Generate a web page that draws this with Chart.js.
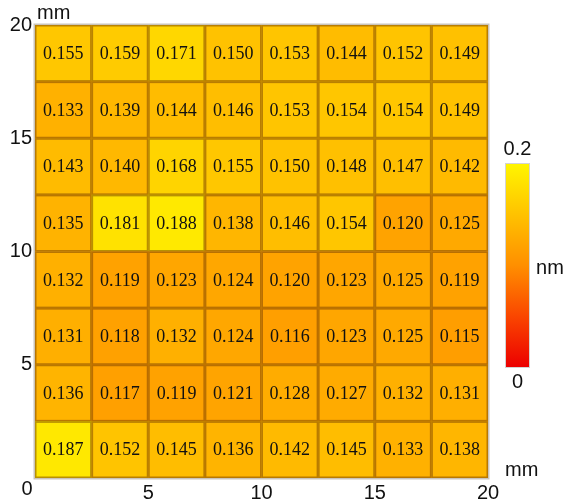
<!DOCTYPE html>
<html>
<head>
<meta charset="utf-8">
<script src="https://cdn.jsdelivr.net/npm/chart.js@4/dist/chart.umd.min.js"></script>
<style>
  html, body { margin: 0; padding: 0; background: #fff; }
  #wrap { width: 565px; height: 503px; }
</style>
</head>
<body>
<div id="wrap"><canvas id="map" width="565" height="503"></canvas></div>
<script>
// Thickness map, 8 x 8 cells over a 20 mm x 20 mm area (values in nm).
// Rows listed from the top row (y = 17.5-20 mm) down to the bottom row.
const row8 = [0.155, 0.159, 0.171, 0.150, 0.153, 0.144, 0.152, 0.149];
const row7 = [0.133, 0.139, 0.144, 0.146, 0.153, 0.154, 0.154, 0.149];
const row6 = [0.143, 0.140, 0.168, 0.155, 0.150, 0.148, 0.147, 0.142];
const row5 = [0.135, 0.181, 0.188, 0.138, 0.146, 0.154, 0.120, 0.125];
const row4 = [0.132, 0.119, 0.123, 0.124, 0.120, 0.123, 0.125, 0.119];
const row3 = [0.131, 0.118, 0.132, 0.124, 0.116, 0.123, 0.125, 0.115];
const row2 = [0.136, 0.117, 0.119, 0.121, 0.128, 0.127, 0.132, 0.131];
const row1 = [0.187, 0.152, 0.145, 0.136, 0.142, 0.145, 0.133, 0.138];
const rowsTopDown = [row8, row7, row6, row5, row4, row3, row2, row1];

const cellSize = 2.5;          // mm per cell
const axisTicks = [0, 5, 10, 15, 20];
const colorMin = 0, colorMax = 0.2;

// red -> orange -> yellow colour scale
const colorStops = [
  [0.00, 236, 0, 0],
  [0.05, 250, 70, 0],
  [0.10, 255, 143, 0],
  [0.20, 255, 245, 0]
];

function colorFor(v) {
  const t = Math.max(colorMin, Math.min(colorMax, v));
  for (let i = 1; i < colorStops.length; i++) {
    const a = colorStops[i - 1], b = colorStops[i];
    if (t <= b[0]) {
      const f = (t - a[0]) / (b[0] - a[0]);
      const r = Math.round(a[1] + (b[1] - a[1]) * f);
      const g = Math.round(a[2] + (b[2] - a[2]) * f);
      const bl = Math.round(a[3] + (b[3] - a[3]) * f);
      return `rgb(${r},${g},${bl})`;
    }
  }
  const l = colorStops[colorStops.length - 1];
  return `rgb(${l[1]},${l[2]},${l[3]})`;
}

// one floating bar per cell
const cells = [];
const nRows = rowsTopDown.length;
rowsTopDown.forEach((row, ri) => {
  const r = nRows - 1 - ri;
  row.forEach((v, c) => {
    cells.push({ x: c * cellSize + cellSize / 2, y: [r * cellSize, (r + 1) * cellSize], v: v });
  });
});

const tickFont = { family: 'Liberation Sans, Arial, sans-serif', size: 20 };

const decorations = {
  id: 'decorations',
  afterDatasetsDraw(chart) {
    const ctx = chart.ctx;
    const meta = chart.getDatasetMeta(0);
    const area = chart.chartArea;

    // translucent brown outline on every cell, so neighbouring cells share a darker seam
    ctx.save();
    ctx.strokeStyle = 'rgba(115,60,0,0.5)';
    ctx.lineWidth = 1.5;
    meta.data.forEach(el => {
      const left = el.x - el.width / 2, top = Math.min(el.y, el.base);
      const h = Math.abs(el.base - el.y);
      ctx.strokeRect(left + 0.75, top + 0.75, el.width - 1.5, h - 1.5);
    });
    ctx.restore();

    // value labels
    ctx.save();
    ctx.fillStyle = '#111';
    ctx.font = '18px "Liberation Serif", "Times New Roman", serif';
    ctx.textAlign = 'center';
    ctx.textBaseline = 'middle';
    meta.data.forEach((el, i) => {
      const cy = (el.y + el.base) / 2;
      ctx.fillText(cells[i].v.toFixed(3), el.x, cy + 1);
    });
    ctx.restore();

    // light frame around the map
    ctx.save();
    ctx.strokeStyle = 'rgba(195,190,180,0.9)';
    ctx.lineWidth = 1.5;
    ctx.strokeRect(area.left - 0.75, area.top - 0.75, area.right - area.left + 1.5, area.bottom - area.top + 1.5);
    ctx.restore();

    // shared origin label and axis units
    ctx.save();
    ctx.fillStyle = '#111';
    ctx.font = '20px "Liberation Sans", Arial, sans-serif';
    ctx.textAlign = 'center';
    ctx.textBaseline = 'middle';
    ctx.fillText('0', area.left - 8, area.bottom + 11);
    ctx.textAlign = 'left';
    ctx.textBaseline = 'alphabetic';
    ctx.fillText('mm', area.left + 2, area.top - 6);
    ctx.fillText('mm', area.right + 17, area.bottom - 2);
    ctx.restore();

    // colour bar
    const cbLeft = 506, cbRight = 529, cbTop = 164, cbBottom = 367;
    ctx.save();
    const grad = ctx.createLinearGradient(0, cbBottom, 0, cbTop);
    colorStops.forEach(s => grad.addColorStop((s[0] - colorMin) / (colorMax - colorMin), `rgb(${s[1]},${s[2]},${s[3]})`));
    ctx.fillStyle = grad;
    ctx.fillRect(cbLeft, cbTop, cbRight - cbLeft, cbBottom - cbTop);
    ctx.strokeStyle = 'rgba(200,200,200,0.8)';
    ctx.lineWidth = 1;
    ctx.strokeRect(cbLeft - 0.5, cbTop - 0.5, cbRight - cbLeft + 1, cbBottom - cbTop + 1);
    ctx.fillStyle = '#111';
    ctx.font = '20px "Liberation Sans", Arial, sans-serif';
    ctx.textAlign = 'center';
    ctx.textBaseline = 'middle';
    ctx.fillText(String(colorMax), (cbLeft + cbRight) / 2, 149);
    ctx.fillText(String(colorMin), (cbLeft + cbRight) / 2, 382);
    ctx.fillText('nm', 550, 268);
    ctx.restore();
  }
};

new Chart(document.getElementById('map'), {
  type: 'bar',
  data: {
    datasets: [{
      data: cells,
      backgroundColor: ctx => colorFor(ctx.raw.v),
      borderWidth: 0,
      barPercentage: 1,
      categoryPercentage: 1
    }]
  },
  options: {
    responsive: false,
    animation: false,
    devicePixelRatio: 1,
    layout: { padding: { top: 25, right: 77, left: 0, bottom: 0 } },
    plugins: { legend: { display: false }, tooltip: { enabled: false } },
    scales: {
      x: {
        type: 'linear',
        offset: false,
        min: 0, max: 20,
        afterBuildTicks: s => { s.ticks = axisTicks.map(v => ({ value: v })); },
        afterFit: s => { s.height = 25; },
        grid: { display: false, drawTicks: false, offset: false },
        border: { display: false },
        ticks: {
          font: tickFont, color: '#111', padding: 3, maxRotation: 0, autoSkip: false,
          callback: v => (v === 0 ? '' : String(v))
        }
      },
      y: {
        type: 'linear',
        min: 0, max: 20,
        afterBuildTicks: s => { s.ticks = axisTicks.map(v => ({ value: v })); },
        afterFit: s => { s.width = 35; },
        grid: { display: false, drawTicks: false },
        border: { display: false },
        ticks: {
          font: tickFont, color: '#111', padding: 3, autoSkip: false,
          callback: v => (v === 0 ? '' : String(v))
        }
      }
    }
  },
  plugins: [decorations]
});
</script>
</body>
</html>
